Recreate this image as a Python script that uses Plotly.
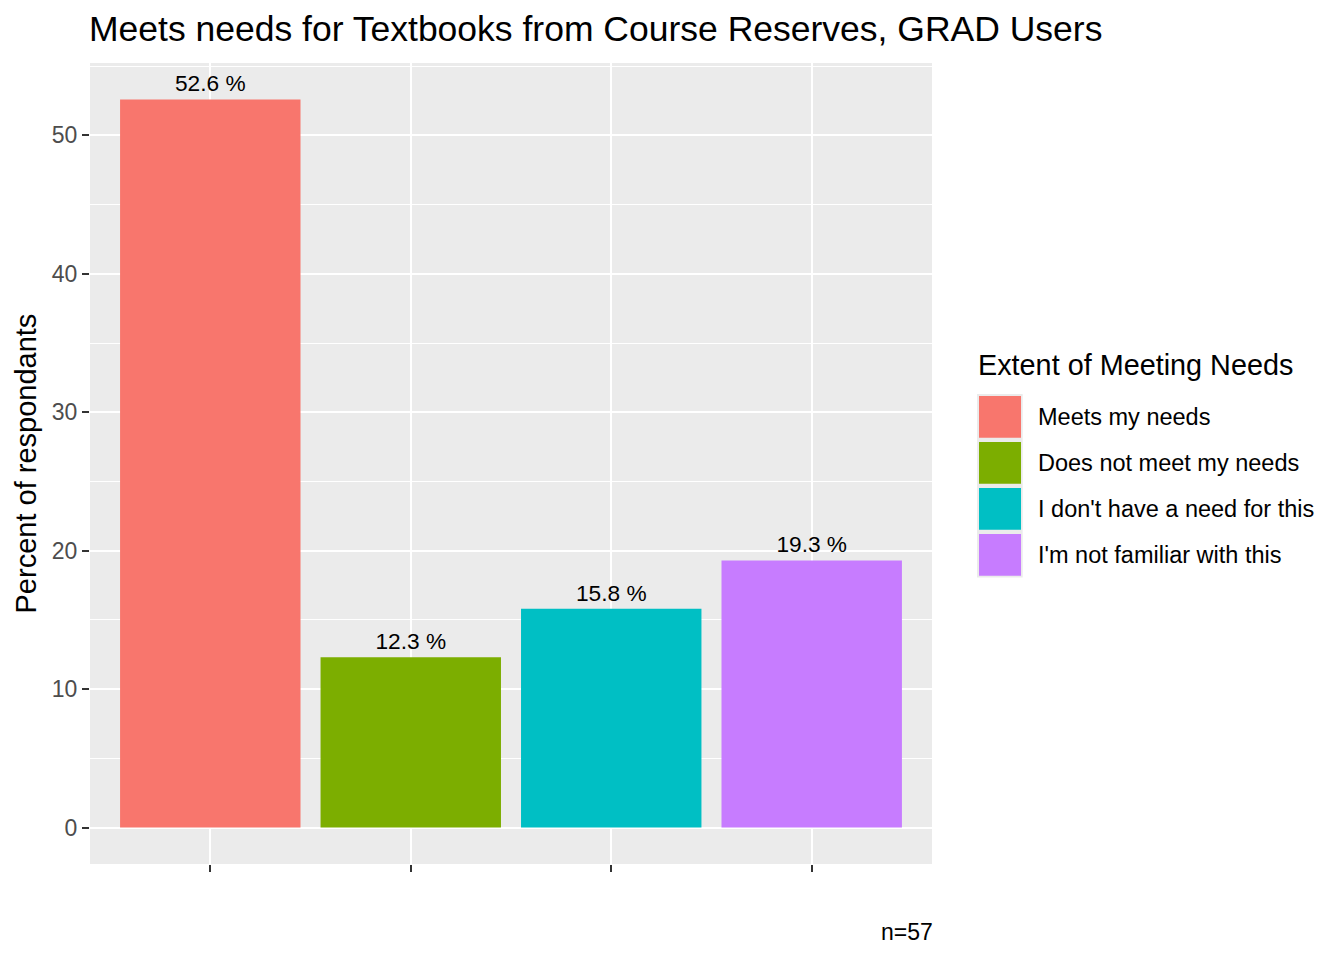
import plotly.graph_objects as go

categories = ["Meets my needs", "Does not meet my needs",
              "I don't have a need for this", "I'm not familiar with this"]
percent_values = [52.6, 12.3, 15.8, 19.3]
bar_colors = ["#F8766D", "#7CAE00", "#00BFC4", "#C77CFF"]
y_ticks = [0, 10, 20, 30, 40, 50]
title_text = "Meets needs for Textbooks from Course Reserves, GRAD Users"
y_title = "Percent of respondants"
legend_title = "Extent of Meeting Needs"
caption = "n=57"

FONT = "Liberation Sans, Arial, sans-serif"
W, H = 1344, 960
L, R, T, B = 90, 932, 63, 864
PW, PH = R - L, B - T


def px_x(px):
    return (px - L) / PW


def px_y(py):
    return (B - py) / PH


fig = go.Figure()
fig.add_trace(go.Bar(
    x=categories, y=percent_values,
    marker=dict(color=bar_colors, line=dict(width=0)),
    width=0.9,
    text=[f"{v:.1f} %" for v in percent_values],
    textposition="outside",
    textfont=dict(family=FONT, size=22.7, color="black"),
    cliponaxis=False,
    showlegend=False,
    hoverinfo="skip",
))

ymax = max(percent_values)
pad = 0.05 * ymax

fig.update_layout(
    width=W, height=H,
    margin=dict(l=L, r=W - R, t=T, b=H - B),
    paper_bgcolor="white",
    plot_bgcolor="#EBEBEB",
    font=dict(family=FONT, color="black"),
    title=dict(text=title_text, font=dict(family=FONT, size=35.5, color="black"),
               x=(L - 1) / W, xanchor="left", xref="container",
               y=1 - 29 / H, yanchor="middle", yref="container"),
    bargap=0.1,
    xaxis=dict(type="category", range=[-0.6, len(categories) - 0.4],
               showticklabels=False, ticks="outside", ticklen=7, tickwidth=2,
               tickcolor="#333333", showgrid=True, gridcolor="white", gridwidth=2.2,
               zeroline=False, showline=False, fixedrange=True),
    yaxis=dict(range=[-pad, ymax + pad], tickvals=y_ticks,
               ticks="outside", ticklen=7, tickwidth=2, tickcolor="#333333",
               tickfont=dict(family=FONT, size=23, color="#4D4D4D"),
               showgrid=True, gridcolor="white", gridwidth=2.2,
               minor=dict(dtick=5, tick0=5, showgrid=True, gridcolor="white", gridwidth=1.1),
               zeroline=False, showline=False),
)

annotations = [
    dict(text=y_title, xref="paper", yref="paper", x=px_x(25), y=0.5,
         textangle=-90, showarrow=False, xanchor="center", yanchor="middle",
         font=dict(family=FONT, size=29, color="black")),
    dict(text=caption, xref="paper", yref="paper", x=px_x(935), y=px_y(932),
         showarrow=False, xanchor="right", yanchor="middle",
         font=dict(family=FONT, size=23, color="black")),
    dict(text=legend_title, xref="paper", yref="paper", x=px_x(975.5), y=px_y(365),
         showarrow=False, xanchor="left", yanchor="middle",
         font=dict(family=FONT, size=28.8, color="black")),
]

shapes = []
key_top, key_pitch = 394, 46
n = len(categories)
shapes.append(dict(type="rect", xref="paper", yref="paper",
                   x0=px_x(977), x1=px_x(1022.7),
                   y0=px_y(key_top + key_pitch * n - 0.5), y1=px_y(key_top),
                   fillcolor="#EBEBEB", line=dict(width=0), layer="above"))
for i, (cat, col) in enumerate(zip(categories, bar_colors)):
    top = key_top + 2 + key_pitch * i
    shapes.append(dict(type="rect", xref="paper", yref="paper",
                       x0=px_x(979), x1=px_x(1021),
                       y0=px_y(top + 41.7), y1=px_y(top),
                       fillcolor=col, line=dict(width=0), layer="above"))
    annotations.append(dict(text=cat, xref="paper", yref="paper",
                            x=px_x(1035.5), y=px_y(top + 20.8),
                            showarrow=False, xanchor="left", yanchor="middle",
                            font=dict(family=FONT, size=23.5, color="black")))

fig.update_layout(annotations=annotations, shapes=shapes)
fig.write_html("out.html")
